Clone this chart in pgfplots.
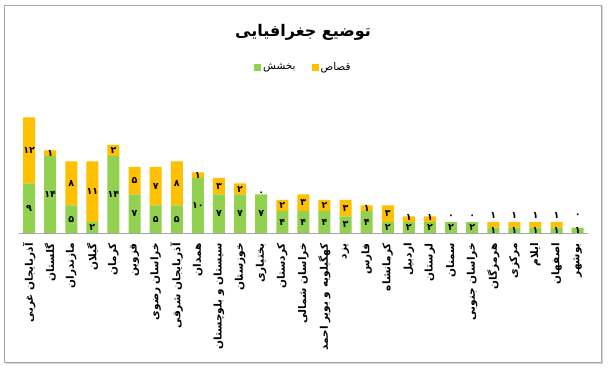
\documentclass[border=0pt]{standalone}
\usepackage{pgfplots}
\pgfplotsset{compat=1.18}
\usepackage{pgfplotstable}
\usepackage{fontspec}
\usetikzlibrary{shadows}
\TeXXeTstate=1
\newfontfamily\arabicfont[Script=Arabic]{DejaVu Sans}
\newcommand{\fa}[1]{{\arabicfont\beginR #1\endR}}
\definecolor{qorange}{HTML}{FFC000}
\definecolor{bgreen}{HTML}{92D050}
\pgfplotstableread{
x g o gl ol dyo
0 9 12 ۹ ۱۲ 0
1 14 1 ۱۴ ۱ 0
2 5 8 ۵ ۸ 0
3 2 11 ۲ ۱۱ 0
4 14 2 ۱۴ ۲ 0
5 7 5 ۷ ۵ 0
6 5 7 ۵ ۷ 0
7 5 8 ۵ ۸ 0
8 10 1 ۱۰ ۱ 0
9 7 3 ۷ ۳ 0
10 7 2 ۷ ۲ 0
11 7 0 ۷ ۰ 1
12 4 2 ۴ ۲ 0
13 4 3 ۴ ۳ 0
14 4 2 ۴ ۲ 0
15 3 3 ۳ ۳ 0
16 4 1 ۴ ۱ 0
17 2 3 ۲ ۳ 0
18 2 1 ۲ ۱ 2
19 2 1 ۲ ۱ 2
20 2 0 ۲ ۰ 5
21 2 0 ۲ ۰ 5
22 1 1 ۱ ۱ 9
23 1 1 ۱ ۱ 9
24 1 1 ۱ ۱ 9
25 1 1 ۱ ۱ 9
26 1 0 ۱ ۰ 12
}\data
\pgfplotsset{base/.style={
  at={(18.5pt,136pt)}, anchor=south west,
  x=21.1pt, y=5.5pt,
  xmin=-0.5, xmax=26.5, ymin=0, ymax=21, clip=false}}
\begin{document}
\begin{tikzpicture}
\useasboundingbox (0,0) rectangle (609pt,369pt);
\draw[gray!70, fill=white, drop shadow={opacity=0.35, shadow xshift=1.5pt, shadow yshift=-1.5pt}] (4pt,7pt) rectangle (601pt,364pt);
\node[font=\arabicfont\bfseries\fontsize{16}{18}\selectfont] at (303pt,337pt) {\beginR توضیع جغرافیایی\endR};
\begin{axis}[
  base,
  ybar stacked, bar width=12pt,
  axis x line*=bottom, axis y line=none,
  axis line style={draw=gray!70, line width=1pt, -},
  xtick=data,
  xticklabels={\fa{آذربایجان غربی},\fa{گلستان},\fa{مازندران},\fa{گیلان},\fa{کرمان},\fa{قزوین},\fa{خراسان رضوی},\fa{آذربایجان شرقی},\fa{همدان},\fa{سیستان و بلوچستان},\fa{خوزستان},\fa{بختیاری},\fa{کردستان},\fa{خراسان شمالی},\fa{کهگیلویه و بویر احمد},\fa{یزد},\fa{فارس},\fa{کرمانشاه},\fa{اردبیل},\fa{لرستان},\fa{سمنان},\fa{خراسان جنوبی},\fa{هرمزگان},\fa{مرکزی},\fa{ایلام},\fa{اصفهان},\fa{بوشهر}},
  major tick length=0pt,
  xticklabel style={rotate=90, anchor=east, font=\arabicfont\bfseries\fontsize{10.5}{11}\selectfont, inner sep=0pt, xshift=-10pt},
  legend style={at={(0.500,1.437)}, anchor=center, draw=none, fill=none, legend columns=2,
    font=\arabicfont\fontsize{10.5}{12}\selectfont, /tikz/every even column/.append style={column sep=14pt}},
  legend plot pos=left,
  legend image code/.code={\fill[#1] (0pt,-3.5pt) rectangle (7pt,3.5pt);},
]
\addplot[fill=bgreen, draw=none] table[x=x, y=g] {\data};
\addlegendentry{\beginR بخشش\endR}
\addplot[fill=qorange, draw=none] table[x=x, y=o] {\data};
\addlegendentry{\beginR قصاص\endR}
\end{axis}
\begin{axis}[base, hide axis,
  nodes near coords, point meta=explicit symbolic,
  every node near coord/.append style={font=\arabicfont\bfseries\fontsize{9.5}{10}\selectfont, text=black, anchor=center, inner sep=1pt}]
\addplot[draw=none, mark=none] table[x=x, y expr={\thisrow{g}/2}, meta=gl] {\data};
\addplot[draw=none, mark=none,
  visualization depends on={\thisrow{dyo} \as \dy},
  every node near coord/.append style={yshift=\dy}]
  table[x=x, y expr={\thisrow{g}+\thisrow{o}/2}, meta=ol] {\data};
\end{axis}
\end{tikzpicture}
\end{document}
